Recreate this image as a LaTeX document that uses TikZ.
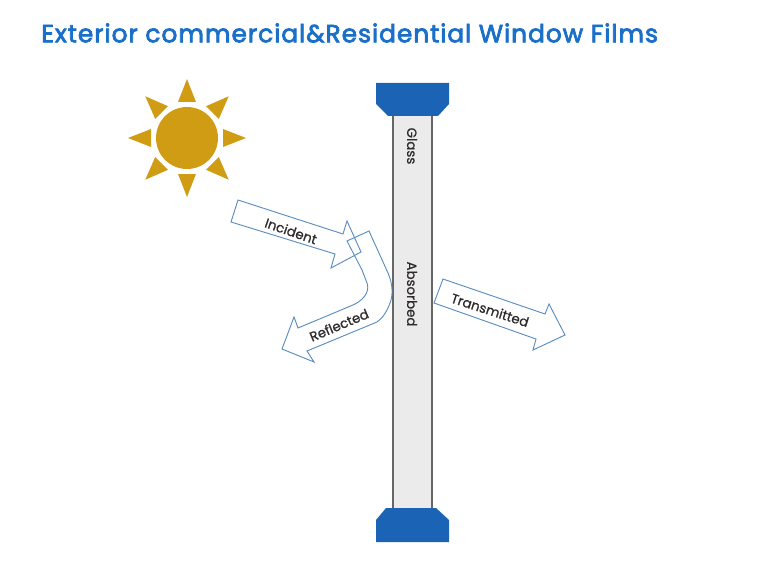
\documentclass[tikz,border=0pt]{standalone}
\usepackage{fontspec}
\setmainfont{Poppins}
\newfontfamily\titlefont{Poppins}[FakeBold=3,LetterSpace=4]
\newfontfamily\rayfont{Poppins}[FakeBold=0.8]
\definecolor{capblue}{HTML}{1B64B5}
\definecolor{titleblue}{HTML}{1A6FC9}
\definecolor{sungold}{HTML}{CF9C14}
\definecolor{arrowblue}{HTML}{5B8DC0}
\definecolor{glassgray}{HTML}{EBEBEB}
\definecolor{textgray}{HTML}{2F2B2B}
\tikzset{
	raylabel/.style={font=\rayfont\fontsize{11.4}{13}\selectfont,text=textgray,inner sep=0pt},
	rayarrow/.style={draw=arrowblue,line width=0.8pt,line join=miter},
	glasscap/.style={fill=capblue,draw=none}
}
\begin{document}
\begin{tikzpicture}[x=0.03cm,y=-0.03cm]
	\useasboundingbox (0,0) rectangle (768,564);
	% title
	\node[anchor=west,inner sep=0pt,text=titleblue,font=\titlefont\fontsize{21.2}{25}\selectfont] (title) at (41,33) {Exterior commercial\&Residential Window Films};
	% sun
	\fill[sungold] (187,138) circle (31);
	\foreach \a in {0,45,...,315}
	\fill[sungold,shift={(187,138)},rotate=\a] (-9,-36) -- (9,-36) -- (0,-59) -- cycle;
	% glass
	\fill[glassgray] (393,115) rectangle (432,508);
	\draw[gray!80!black,line width=1.5pt] (393,115) -- (393,508) (432,115) -- (432,508);
	\fill[glasscap] (376,83) -- (449,83) -- (449,104) -- (438,116) -- (388,116) -- (376,104) -- cycle;
	\fill[glasscap] (386,508) -- (436,508) -- (449,520) -- (449,542) -- (376,542) -- (376,520) -- cycle;
	\node[raylabel,rotate=-90] (glass) at (412,146) {Glass};
	\node[raylabel,rotate=-90] (absorbed) at (412,294) {Absorbed};
	% rays
	\draw[rayarrow] (238,200) -- (343,234) -- (347,221) -- (361,252) -- (331,268) -- (335,254) -- (231,222) -- cycle;
	\draw[rayarrow] (347,241) -- (369,231) -- (388,273) .. controls (393,284) and (393,296) .. (390,303) .. controls (387,311) and (383,318) .. (377,322) -- (307,351) -- (314,362) -- (282,349) -- (294,317) -- (298,328) -- (353,305) .. controls (368,298) and (369,288) .. (367,283) -- (362,270) -- cycle;
	\draw[rayarrow] (443,279) -- (545,314) -- (549,304) -- (565,335) -- (533,350) -- (536,339) -- (434,303) -- cycle;
	\node[raylabel,rotate=-19] (incident) at (291,231) {Incident};
	\node[raylabel,rotate=23] (reflected) at (339,325) {Reflected};
	\node[raylabel,rotate=-18] (transmitted) at (490,310) {Transmitted};
\end{tikzpicture}
\end{document}
